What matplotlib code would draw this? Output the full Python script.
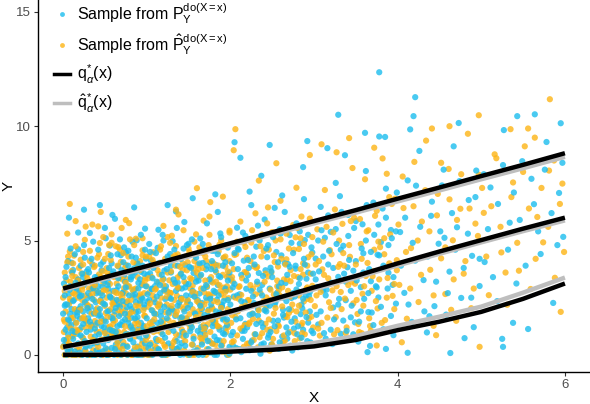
import numpy as np
import matplotlib
matplotlib.use("Agg")
import matplotlib.pyplot as plt
from matplotlib.lines import Line2D

plt.rcParams['font.family'] = ['Liberation Sans', 'DejaVu Sans']
plt.rcParams['mathtext.fontset'] = 'custom'
plt.rcParams['mathtext.rm'] = 'Liberation Sans'
plt.rcParams['mathtext.it'] = 'Liberation Sans:italic'

# sample from the true interventional distribution
blue_pts = [
    (0.02,0.00),(0.05,1.21),(0.07,2.64),(0.09,0.38),(0.12,3.71),(0.14,1.85),(0.16,0.02),(0.18,4.62),(0.21,2.13),(0.23,0.77),
    (0.25,3.05),(0.27,1.49),(0.30,0.00),(0.32,5.33),(0.34,2.88),(0.36,0.54),(0.39,1.97),(0.41,3.42),(0.43,0.11),(0.45,2.41),
    (0.48,4.07),(0.50,1.02),(0.52,0.00),(0.54,3.18),(0.57,1.66),(0.59,6.12),(0.61,2.29),(0.63,0.45),(0.66,3.87),(0.68,1.33),
    (0.70,0.03),(0.72,2.75),(0.75,4.48),(0.77,0.91),(0.79,1.78),(0.81,3.30),(0.84,0.00),(0.86,2.52),(0.88,5.01),(0.90,1.14),
    (0.93,3.63),(0.95,0.62),(0.97,2.06),(0.99,4.21),(0.01,3.12),(0.04,0.66),(0.08,1.79),(0.11,0.00),(0.13,2.95),(0.17,0.92),
    (0.20,1.58),(0.24,3.40),(0.26,0.21),(0.29,2.48),(0.33,1.10),(0.35,3.96),(0.38,0.00),(0.42,1.72),(0.44,6.55),(0.47,2.97),
    (0.51,0.29),(0.55,1.93),(0.58,3.55),(0.62,0.84),(0.65,2.21),(0.69,4.36),(0.71,1.45),(0.74,0.07),(0.78,2.99),(0.82,1.62),
    (0.85,3.79),(0.89,0.36),(0.92,2.37),(0.96,1.27),(0.98,5.52),(0.03,2.21),(0.06,0.14),(0.10,4.03),(0.15,1.41),(0.19,2.71),
    (0.22,0.00),(0.28,3.64),(0.31,1.89),(0.37,0.49),(0.40,2.69),(0.46,1.26),(0.49,3.23),(0.53,0.00),(0.56,4.78),(0.60,1.51),
    (0.64,2.83),(0.67,0.18),(0.73,3.49),(0.76,2.08),(0.80,0.72),(0.83,4.94),(0.87,1.87),(0.91,0.00),(0.94,3.05),(0.97,0.98),
    (0.07,6.00),
    (1.01,2.33),(1.03,0.00),(1.05,4.12),(1.07,1.46),(1.10,3.01),(1.12,0.59),(1.14,5.47),(1.16,2.18),(1.19,0.00),(1.21,3.68),
    (1.23,1.24),(1.25,2.76),(1.28,4.41),(1.30,0.31),(1.32,1.93),(1.35,6.27),(1.37,3.16),(1.39,0.85),(1.41,2.49),(1.44,0.02),
    (1.46,3.92),(1.48,1.58),(1.50,4.86),(1.53,2.62),(1.55,0.44),(1.57,1.84),(1.60,3.37),(1.62,0.00),(1.64,5.09),(1.66,2.27),
    (1.69,1.02),(1.71,3.74),(1.73,0.17),(1.76,2.55),(1.78,4.55),(1.80,1.39),(1.82,7.02),(1.85,3.05),(1.87,0.63),(1.89,2.11),
    (1.92,4.23),(1.94,1.17),(1.96,0.00),(1.98,3.46),(1.02,1.08),(1.06,2.87),(1.09,0.22),(1.13,4.68),(1.17,1.69),(1.20,3.32),
    (1.24,0.07),(1.27,2.04),(1.31,4.97),(1.34,1.31),(1.38,2.93),(1.42,0.52),(1.45,5.81),(1.49,2.36),(1.52,1.03),(1.56,3.58),
    (1.59,0.12),(1.63,2.68),(1.67,4.02),(1.70,0.76),(1.74,1.98),(1.77,3.21),(1.81,0.00),(1.84,2.41),(1.88,5.31),(1.91,1.55),
    (1.95,2.82),(1.99,0.35),(1.04,3.57),(1.11,1.77),(1.18,0.00),(1.22,2.44),(1.29,3.89),(1.36,0.27),(1.40,1.61),(1.47,3.11),
    (1.51,0.09),(1.58,4.37),(1.65,1.22),(1.72,2.97),(1.79,0.49),(1.83,3.93),(1.90,2.19),(1.97,4.69),
    (2.01,3.29),(2.03,0.41),(2.06,1.88),(2.08,5.56),(2.11,2.65),(2.13,0.12),(2.16,4.12),(2.18,1.36),(2.21,3.48),(2.23,7.14),
    (2.26,0.63),(2.28,2.27),(2.31,4.73),(2.33,1.72),(2.36,0.05),(2.38,3.06),(2.41,5.92),(2.43,2.14),(2.46,0.88),(2.48,3.81),
    (2.51,1.49),(2.53,6.43),(2.56,2.72),(2.58,0.26),(2.61,4.35),(2.63,1.97),(2.66,3.14),(2.68,0.71),(2.71,5.24),(2.73,2.49),
    (2.76,1.15),(2.78,3.77),(2.81,0.33),(2.83,4.86),(2.86,2.03),(2.88,6.81),(2.91,3.33),(2.93,1.41),(2.96,0.54),(2.98,4.48),
    (2.04,2.55),(2.09,4.64),(2.14,1.05),(2.19,2.89),(2.24,0.29),(2.29,5.11),(2.34,3.58),(2.39,1.21),(2.44,4.27),(2.49,0.46),
    (2.54,2.31),(2.59,5.49),(2.64,1.63),(2.69,3.97),(2.74,0.19),(2.79,2.86),(2.84,1.78),(2.89,5.02),(2.94,2.58),(2.99,0.95),
    (2.12,8.62),(2.37,7.83),(2.62,6.97),(2.87,8.21),(2.47,9.18),(2.05,9.30),(2.92,9.35),
    (3.02,4.21),(3.05,1.33),(3.08,6.47),(3.11,2.82),(3.14,0.71),(3.17,3.95),(3.20,5.38),(3.23,2.07),(3.26,7.52),(3.29,3.41),
    (3.32,0.92),(3.35,4.77),(3.38,2.39),(3.41,6.12),(3.44,1.64),(3.47,3.68),(3.50,5.85),(3.53,0.58),(3.56,2.96),(3.59,4.44),
    (3.62,8.04),(3.65,1.87),(3.68,3.22),(3.71,6.66),(3.78,12.36),(3.77,2.51),(3.80,4.93),(3.83,1.12),(3.86,7.27),(3.89,3.59),
    (3.92,5.46),(3.95,0.86),(3.98,2.24),(3.04,2.97),(3.13,5.12),(3.22,0.47),(3.31,6.94),(3.40,3.83),(3.49,1.42),(3.58,5.71),
    (3.67,0.39),(3.76,4.38),(3.85,9.53),(3.94,3.06),(3.37,8.73),(3.61,9.71),(3.16,9.04),(3.29,10.50),(3.78,9.55),
    (3.64,0.12),(3.86,0.26),
    (4.03,5.37),(4.08,2.71),(4.12,7.63),(4.17,1.44),(4.21,4.12),(4.26,8.92),(4.31,3.27),(4.35,0.98),(4.40,6.08),(4.44,2.13),
    (4.49,4.86),(4.53,7.41),(4.58,1.76),(4.62,3.64),(4.67,9.12),(4.71,5.58),(4.76,2.49),(4.80,0.73),(4.85,6.77),(4.89,4.33),
    (4.94,8.06),(4.98,3.01),(4.21,11.27),(4.15,9.86),(4.38,1.69),(4.56,5.12),(4.73,10.14),(4.91,1.21),(4.19,10.44),
    (4.12,0.09),(4.63,0.08),
    (5.04,4.06),(5.11,7.32),(5.19,2.35),(5.27,9.83),(5.34,5.78),(5.42,3.12),(5.49,8.47),(5.56,1.13),(5.63,6.59),(5.71,4.41),
    (5.78,9.31),(5.86,2.27),(5.93,7.08),(5.98,5.16),(5.43,10.44),(5.64,10.52),(5.95,10.13),(5.26,0.35),(5.38,1.40),(5.25,0.70),
]

# the packed mass of blue points at low X
blue_dense = [
    (0.00,1.8),(0.01,0.4),(0.02,2.6),(0.03,1.1),(0.03,3.4),(0.04,0.0),(0.05,2.2),(0.06,0.9),(0.06,4.1),(0.07,1.5),(0.08,3.0),
    (0.09,0.2),(0.10,2.0),(0.10,1.3),(0.11,3.6),(0.12,0.7),(0.13,2.4),(0.14,4.4),(0.14,1.0),(0.15,0.0),(0.16,2.9),(0.17,1.7),
    (0.18,0.5),(0.18,3.3),(0.19,2.0),(0.20,0.1),(0.21,3.9),(0.22,1.2),(0.22,2.6),(0.23,0.0),(0.24,1.9),(0.25,4.8),(0.26,0.6),
    (0.26,2.3),(0.27,3.2),(0.28,1.0),(0.29,0.0),(0.30,2.7),(0.30,1.6),(0.31,3.6),(0.32,0.4),(0.33,2.1),(0.34,1.3),(0.34,4.2),
    (0.35,0.0),(0.36,2.9),(0.37,1.8),(0.38,0.8),(0.38,3.4),(0.39,2.3),(0.40,0.2),(0.41,1.4),(0.42,3.0),(0.42,4.6),(0.43,0.9),
    (0.44,2.0),(0.45,0.0),(0.46,3.7),(0.46,1.6),(0.47,2.6),(0.48,0.5),(0.49,1.2),(0.50,3.3),(0.50,2.2),(0.51,5.1),(0.52,0.8),
    (0.53,1.9),(0.54,0.0),(0.54,2.9),(0.55,3.8),(0.56,1.1),(0.57,2.5),(0.58,0.3),(0.58,4.0),(0.59,1.6),(0.60,2.8),(0.61,0.0),
    (0.62,3.5),(0.62,1.9),(0.63,1.0),(0.64,2.4),(0.65,4.4),(0.66,0.6),(0.66,3.0),(0.67,1.7),(0.68,2.1),(0.69,0.0),(0.70,3.7),
    (0.70,1.3),(0.71,2.7),(0.72,0.4),(0.73,4.7),(0.74,1.8),(0.74,3.2),(0.75,0.9),(0.76,2.3),(0.77,0.0),(0.78,3.9),(0.78,1.4),
    (0.79,2.6),(0.80,0.7),(0.81,3.4),(0.82,2.0),(0.82,4.3),(0.83,1.1),(0.84,2.8),(0.85,0.2),(0.86,1.6),(0.86,3.6),(0.87,2.3),
    (0.88,0.0),(0.89,4.0),(0.90,1.9),(0.90,2.9),(0.91,0.8),(0.92,3.3),(0.93,1.4),(0.94,2.5),(0.94,0.0),(0.95,3.9),(0.96,1.2),
    (0.97,2.2),(0.98,4.6),(0.98,0.5),(0.99,3.0),
    (1.00,1.6),(1.01,3.5),(1.02,0.3),(1.03,2.4),(1.04,4.5),(1.05,1.1),(1.06,2.9),(1.07,0.0),(1.08,3.8),(1.09,1.8),(1.10,2.3),
    (1.11,0.7),(1.12,3.2),(1.13,1.4),(1.14,4.0),(1.15,0.2),(1.16,2.7),(1.17,1.9),(1.18,3.5),(1.19,0.9),(1.20,5.0),(1.21,2.1),
    (1.22,0.0),(1.23,3.0),(1.24,1.6),(1.25,4.3),(1.26,0.5),(1.27,2.5),(1.28,1.2),(1.29,3.6),(1.30,2.0),(1.31,0.1),(1.32,3.3),
    (1.33,4.6),(1.34,1.7),(1.35,2.8),(1.36,0.6),(1.37,3.9),(1.38,1.3),(1.39,2.3),(1.40,0.0),(1.41,4.2),(1.42,2.9),(1.43,1.0),
    (1.44,3.4),(1.45,1.9),(1.46,0.4),(1.47,2.6),(1.48,4.8),(1.49,1.4),(1.50,3.1),(1.51,0.0),(1.52,2.2),(1.53,3.8),(1.54,1.2),
    (1.55,2.8),(1.56,0.7),(1.57,4.4),(1.58,1.8),(1.59,3.2),(1.60,0.2),(1.61,2.4),(1.62,1.5),(1.63,4.0),(1.64,0.9),(1.65,3.5),
    (1.66,2.0),(1.67,0.0),(1.68,2.9),(1.69,4.6),(1.70,1.2),(1.71,2.5),(1.72,3.9),(1.73,0.6),(1.74,1.7),(1.75,3.3),(1.76,0.1),
    (1.77,2.2),(1.78,4.1),(1.79,1.5),(1.80,2.8),(1.81,0.8),(1.82,3.7),(1.83,1.9),(1.84,0.0),(1.85,4.4),(1.86,2.6),(1.87,1.1),
    (1.88,3.4),(1.89,0.4),(1.90,2.1),(1.91,3.9),(1.92,1.6),(1.93,0.9),(1.94,2.9),(1.95,4.8),(1.96,1.3),(1.97,2.4),(1.98,0.2),
    (1.99,3.6),
    (2.00,2.2),(2.02,4.0),(2.03,1.0),(2.05,3.1),(2.07,0.3),(2.08,2.6),(2.10,4.6),(2.12,1.6),(2.13,3.5),(2.15,0.7),(2.17,2.3),
    (2.18,5.2),(2.20,1.2),(2.22,3.8),(2.23,0.2),(2.25,2.8),(2.27,1.8),(2.28,4.3),(2.30,0.9),(2.32,3.2),(2.33,2.0),(2.35,5.0),
    (2.37,1.4),(2.38,2.6),(2.40,0.5),(2.42,3.7),(2.43,1.9),(2.45,4.8),(2.47,2.9),(2.48,1.0),(2.50,3.4),(2.52,0.3),(2.53,2.2),
    (2.55,4.5),(2.57,1.5),(2.58,3.0),(2.60,5.3),(2.62,0.8),(2.63,2.5),(2.65,4.0),(2.67,1.2),(2.68,3.5),(2.70,2.0),(2.72,0.4),
    (2.73,4.9),(2.75,2.7),(2.77,1.6),(2.78,3.9),(2.80,0.9),(2.82,3.1),(2.83,5.4),(2.85,2.2),(2.87,1.1),(2.88,4.2),(2.90,2.6),
    (2.92,0.6),(2.93,3.6),(2.95,1.9),(2.97,4.7),(2.98,2.9),
    (3.02,3.3),(3.05,5.0),(3.08,1.9),(3.11,4.3),(3.14,2.6),(3.17,6.1),(3.20,1.1),(3.23,3.8),(3.26,5.5),(3.29,2.2),(3.32,4.6),
    (3.35,1.5),(3.38,3.2),(3.41,5.2),(3.44,2.8),(3.47,0.9),(3.50,4.1),(3.53,6.3),(3.56,1.9),(3.59,3.6),(3.62,5.0),(3.65,2.7),
    (3.68,4.5),(3.71,1.3),(3.74,3.0),(3.77,5.7),(3.80,2.1),(3.83,3.9),(3.86,6.0),(3.89,4.8),(3.92,1.7),(3.95,3.4),(3.98,5.4),
]

# more blue points filling the gaps of the packed mass
blue_fill = [
    (0.01,0.65),(0.02,2.15),(0.04,3.85),(0.05,0.25),(0.06,1.55),(0.08,2.85),(0.09,4.65),(0.11,1.05),(0.12,2.35),(0.14,0.15),
    (0.15,3.15),(0.17,1.85),(0.18,5.35),(0.20,2.55),(0.21,0.85),(0.23,3.55),(0.24,1.35),(0.26,4.25),(0.27,0.35),(0.29,2.05),
    (0.30,3.75),(0.32,1.45),(0.33,0.05),(0.35,2.45),(0.36,4.95),(0.38,1.15),(0.39,3.25),(0.41,0.55),(0.42,2.75),(0.44,1.75),
    (0.45,3.95),(0.47,0.15),(0.48,2.25),(0.50,5.55),(0.51,1.45),(0.53,3.05),(0.54,0.65),(0.56,2.55),(0.57,4.35),(0.59,1.05),
    (0.60,3.65),(0.62,0.25),(0.63,2.05),(0.65,1.25),(0.66,3.35),(0.68,5.05),(0.69,0.75),(0.71,2.35),(0.72,4.05),(0.74,1.55),
    (0.75,2.95),(0.77,0.35),(0.78,4.55),(0.80,2.15),(0.81,1.25),(0.83,3.45),(0.84,0.55),(0.86,2.65),(0.87,4.25),(0.89,1.65),
    (0.90,3.15),(0.92,0.15),(0.93,5.25),(0.95,2.45),(0.96,1.05),(0.97,3.55),(0.99,0.85),(0.25,6.35),(0.62,5.95),(0.85,6.45),
    (1.01,2.65),(1.03,4.85),(1.04,0.45),(1.06,1.95),(1.07,3.35),(1.09,1.15),(1.11,4.45),(1.12,2.55),(1.14,0.25),(1.16,3.05),
    (1.17,1.45),(1.19,5.25),(1.21,2.85),(1.22,0.75),(1.24,3.75),(1.26,1.85),(1.27,0.05),(1.29,2.45),(1.31,4.15),(1.32,1.05),
    (1.34,3.15),(1.36,5.55),(1.37,2.15),(1.39,0.35),(1.41,3.55),(1.42,1.65),(1.44,4.65),(1.46,2.95),(1.47,0.85),(1.49,2.05),
    (1.51,3.85),(1.52,1.35),(1.54,5.05),(1.56,0.15),(1.57,2.55),(1.59,4.25),(1.61,1.05),(1.62,3.25),(1.64,2.15),(1.66,0.45),
    (1.67,4.85),(1.69,1.75),(1.71,3.05),(1.72,5.75),(1.74,0.25),(1.76,2.45),(1.77,3.75),(1.79,1.25),(1.81,4.55),(1.82,2.75),
    (1.84,0.65),(1.86,3.45),(1.87,1.85),(1.89,5.15),(1.91,0.95),(1.92,2.35),(1.94,4.05),(1.96,1.55),(1.97,3.25),(1.99,0.05),
    (1.25,6.55),(1.55,6.85),(1.85,6.25),
    (2.01,0.85),(2.03,2.95),(2.05,4.45),(2.07,1.55),(2.09,3.75),(2.11,0.25),(2.13,2.35),(2.15,5.35),(2.17,1.05),(2.19,3.25),
    (2.21,4.15),(2.23,1.75),(2.25,0.55),(2.27,2.55),(2.29,3.95),(2.31,1.35),(2.33,5.65),(2.35,2.85),(2.37,0.45),(2.39,3.45),
    (2.41,1.95),(2.43,4.65),(2.45,0.75),(2.47,2.15),(2.49,3.65),(2.51,5.15),(2.53,1.25),(2.55,2.65),(2.57,4.05),(2.59,0.55),
    (2.61,3.15),(2.63,1.75),(2.65,5.45),(2.67,2.35),(2.69,0.95),(2.71,3.85),(2.73,1.45),(2.75,4.45),(2.77,2.55),(2.79,5.75),
    (2.81,1.25),(2.83,3.35),(2.85,0.75),(2.87,2.45),(2.89,3.95),(2.91,1.65),(2.93,5.25),(2.95,2.75),(2.97,1.05),(2.99,3.55),
    (2.25,6.55),(2.65,6.25),
    (3.03,1.75),(3.06,3.65),(3.09,5.45),(3.12,0.95),(3.15,2.85),(3.18,4.55),(3.21,3.15),(3.24,1.55),(3.27,4.85),(3.30,2.45),
    (3.33,6.25),(3.36,3.55),(3.39,1.05),(3.42,4.15),(3.45,2.15),(3.48,5.55),(3.51,3.25),(3.54,1.45),(3.57,4.65),(3.60,2.45),
    (3.63,6.55),(3.66,3.75),(3.69,1.85),(3.72,5.25),(3.75,2.95),(3.78,4.35),
]

# blue points thinning out towards larger X
blue_mid = [
    (3.82,6.4),(3.88,2.9),(3.93,5.1),(3.99,7.1),(4.04,3.9),(4.09,6.0),(4.13,2.2),(4.18,4.9),(4.22,7.4),(4.27,5.6),
    (4.32,1.9),(4.36,4.3),(4.41,6.7),(4.46,3.2),(4.51,5.4),(4.55,8.1),(4.60,2.7),(4.65,6.2),(4.69,4.6),(4.74,7.6),
    (4.79,3.8),(4.84,5.3),(4.88,2.5),(4.93,6.9),(4.98,4.2),(5.03,7.9),(5.08,5.5),(5.14,3.4),(5.20,6.6),(5.26,8.3),
    (5.32,4.6),(5.39,7.1),(5.46,5.9),(5.53,3.9),(5.60,7.7),(5.68,5.4),(5.76,8.1),(5.84,6.2),(5.91,4.8),(5.97,8.4),
]

# sample from the estimated interventional distribution
orange_pts = [
    (0.01,1.54),(0.04,3.27),(0.06,0.00),(0.09,2.36),(0.11,0.81),(0.13,4.34),(0.15,1.12),(0.18,2.82),(0.20,0.00),(0.22,3.56),
    (0.25,1.67),(0.27,5.61),(0.29,0.42),(0.32,2.58),(0.34,1.31),(0.37,3.84),(0.39,0.00),(0.41,2.04),(0.44,4.89),(0.46,0.67),
    (0.48,3.13),(0.51,1.83),(0.53,0.24),(0.55,2.71),(0.58,5.27),(0.60,1.06),(0.62,3.47),(0.65,0.00),(0.67,2.18),(0.69,4.06),
    (0.72,0.57),(0.74,1.95),(0.76,3.31),(0.79,5.76),(0.81,0.09),(0.83,2.61),(0.86,1.38),(0.88,3.98),(0.90,0.00),(0.92,2.24),
    (0.95,4.57),(0.97,1.71),(0.99,0.33),(0.02,2.79),(0.07,0.51),(0.10,3.66),(0.14,0.00),(0.17,1.96),(0.21,4.16),(0.24,0.73),
    (0.28,2.23),(0.31,0.00),(0.35,3.21),(0.38,1.48),(0.42,5.62),(0.45,2.69),(0.49,0.16),(0.52,3.79),(0.56,1.24),(0.59,2.46),
    (0.63,0.81),(0.66,4.71),(0.70,1.89),(0.73,2.92),(0.77,0.00),(0.80,3.61),(0.84,1.19),(0.87,5.08),(0.91,2.57),(0.94,0.47),
    (0.98,3.36),(0.03,0.00),(0.08,4.52),(0.12,1.63),(0.16,3.02),(0.19,0.28),(0.23,2.39),(0.26,5.03),(0.30,1.36),(0.33,0.00),
    (0.36,2.93),(0.40,1.02),(0.43,3.52),(0.47,0.00),(0.50,2.14),(0.54,4.41),(0.57,0.93),(0.61,1.74),(0.64,3.12),(0.68,0.36),
    (0.71,2.51),(0.75,3.93),(0.78,1.55),(0.82,0.00),(0.85,2.86),(0.89,1.03),(0.93,3.71),(0.96,0.21),(0.08,6.60),
    (1.01,0.00),(1.03,2.74),(1.06,1.29),(1.08,4.49),(1.10,0.37),(1.13,2.16),(1.15,3.53),(1.17,0.98),(1.20,5.64),(1.22,1.87),
    (1.24,0.00),(1.27,3.26),(1.29,2.02),(1.31,4.27),(1.34,0.66),(1.36,2.59),(1.38,6.14),(1.41,1.43),(1.43,3.71),(1.45,0.19),
    (1.48,2.31),(1.50,4.65),(1.52,1.16),(1.55,3.04),(1.57,0.00),(1.59,5.27),(1.62,1.91),(1.64,3.44),(1.66,0.54),(1.69,2.72),
    (1.71,4.11),(1.73,1.34),(1.76,6.68),(1.78,2.07),(1.80,0.08),(1.83,3.62),(1.85,1.68),(1.87,4.82),(1.90,0.42),(1.92,2.94),
    (1.94,3.86),(1.97,1.21),(1.99,5.43),(1.02,3.84),(1.05,0.52),(1.09,2.43),(1.12,1.05),(1.16,4.03),(1.19,0.00),(1.23,2.86),
    (1.26,1.52),(1.30,5.21),(1.33,0.26),(1.37,3.39),(1.40,2.12),(1.44,0.79),(1.47,4.31),(1.51,1.78),(1.54,0.00),(1.58,2.53),
    (1.61,3.94),(1.65,1.11),(1.68,5.87),(1.72,2.38),(1.75,0.61),(1.79,3.16),(1.82,1.46),(1.86,4.53),(1.89,2.66),(1.93,0.14),
    (1.96,3.41),(1.07,1.94),(1.14,3.17),(1.21,0.44),(1.28,2.71),(1.35,4.76),(1.42,1.59),(1.49,0.00),(1.56,3.78),(1.63,2.25),
    (1.70,0.87),(1.77,3.99),(1.84,1.27),(1.91,6.92),(1.98,2.48),(1.60,7.29),
    (2.02,1.74),(2.05,4.37),(2.07,0.26),(2.10,2.97),(2.12,5.83),(2.15,1.18),(2.17,3.62),(2.20,0.49),(2.22,2.38),(2.25,4.91),
    (2.27,1.57),(2.30,6.19),(2.32,3.08),(2.35,0.77),(2.37,2.21),(2.40,4.54),(2.42,1.36),(2.45,3.43),(2.47,0.18),(2.50,5.37),
    (2.52,2.64),(2.55,1.04),(2.57,3.86),(2.60,6.74),(2.62,2.12),(2.65,0.61),(2.67,4.18),(2.70,1.83),(2.72,3.22),(2.75,5.68),
    (2.77,0.94),(2.80,2.77),(2.82,4.63),(2.85,1.29),(2.87,3.51),(2.90,0.39),(2.92,2.45),(2.95,5.96),(2.97,1.67),(2.03,3.19),
    (2.08,0.85),(2.13,2.62),(2.18,4.72),(2.23,1.41),(2.28,3.87),(2.33,0.33),(2.38,5.26),(2.43,2.51),(2.48,1.12),(2.53,4.06),
    (2.58,2.83),(2.63,0.57),(2.68,3.31),(2.73,1.96),(2.78,5.14),(2.83,0.72),(2.88,2.34),(2.93,4.27),(2.98,3.02),
    (2.06,9.87),(2.04,8.95),(2.34,7.62),(2.55,8.38),(2.79,7.31),(2.95,8.74),
    (3.01,2.13),(3.04,5.49),(3.07,0.84),(3.10,3.74),(3.13,7.21),(3.16,1.63),(3.19,4.58),(3.22,2.82),(3.25,6.36),(3.28,1.08),
    (3.31,3.97),(3.34,5.73),(3.37,2.46),(3.40,0.69),(3.43,4.29),(3.46,8.17),(3.49,3.11),(3.52,1.79),(3.55,5.94),(3.58,2.67),
    (3.61,7.68),(3.64,4.02),(3.67,1.26),(3.70,3.44),(3.73,6.08),(3.76,2.03),(3.79,4.71),(3.82,8.59),(3.85,1.52),(3.88,3.36),
    (3.91,5.27),(3.94,2.58),(3.97,6.83),(3.09,9.21),(3.27,8.86),(3.42,9.48),(3.57,0.95),(3.72,9.06),(3.87,7.92),(3.99,4.14),
    (3.33,0.62),(3.75,0.41),
    (4.02,3.06),(4.07,6.42),(4.11,1.58),(4.16,4.67),(4.20,8.44),(4.25,2.31),(4.29,5.83),(4.34,9.37),(4.39,3.72),(4.43,1.27),
    (4.48,7.04),(4.52,4.22),(4.57,2.66),(4.61,8.13),(4.66,5.01),(4.70,1.49),(4.75,6.39),(4.79,3.55),(4.84,9.67),(4.88,2.04),
    (4.93,5.74),(4.97,7.88),(4.41,9.90),(4.46,0.86),(4.64,1.97),(4.62,10.00),(4.97,10.48),(4.98,0.35),(4.05,0.55),
    (5.03,6.21),(5.09,2.61),(5.16,8.77),(5.24,4.48),(5.31,2.19),(5.38,7.54),(5.45,3.68),(5.52,9.12),(5.59,2.88),(5.67,6.03),
    (5.74,4.92),(5.81,8.06),(5.88,3.37),(5.82,11.18),(5.97,7.49),(5.56,9.90),(5.35,9.87),(5.64,9.50),(5.95,1.88),
]

# the packed mass of orange points at low X
orange_dense = [
    (0.00,2.5),(0.01,1.0),(0.02,0.0),(0.02,3.6),(0.03,1.9),(0.04,0.6),(0.05,2.9),(0.06,4.3),(0.07,1.3),(0.07,2.2),(0.08,0.2),
    (0.09,3.2),(0.10,1.6),(0.11,0.0),(0.12,2.7),(0.12,4.0),(0.13,0.9),(0.14,2.0),(0.15,3.4),(0.16,1.4),(0.17,0.3),(0.18,2.5),
    (0.19,3.8),(0.20,1.1),(0.21,2.0),(0.22,0.0),(0.23,3.0),(0.23,1.6),(0.24,4.5),(0.25,0.5),(0.26,2.6),(0.27,1.2),(0.28,3.5),
    (0.29,2.1),(0.30,0.0),(0.31,2.9),(0.32,4.1),(0.33,0.8),(0.34,1.8),(0.35,3.1),(0.36,0.2),(0.37,2.4),(0.38,3.9),(0.39,1.3),
    (0.40,2.8),(0.41,0.5),(0.42,1.9),(0.43,4.4),(0.44,1.0),(0.45,3.4),(0.46,2.3),(0.47,0.0),(0.48,2.8),(0.49,1.5),(0.50,4.2),
    (0.51,0.7),(0.52,2.5),(0.53,3.6),(0.54,1.2),(0.55,0.0),(0.56,3.1),(0.57,2.0),(0.58,4.9),(0.59,0.9),(0.60,2.2),(0.61,3.4),
    (0.62,1.5),(0.63,0.3),(0.64,2.7),(0.65,3.9),(0.66,1.0),(0.67,2.4),(0.68,4.6),(0.69,1.8),(0.70,0.0),(0.71,3.3),(0.72,2.2),
    (0.73,1.0),(0.74,3.8),(0.75,2.7),(0.76,0.4),(0.77,1.7),(0.78,4.3),(0.79,3.0),(0.80,1.2),(0.81,2.4),(0.82,0.0),(0.83,3.6),
    (0.84,1.9),(0.85,4.8),(0.86,0.8),(0.87,2.9),(0.88,1.5),(0.89,3.4),(0.90,2.1),(0.91,0.3),(0.92,4.1),(0.93,2.5),(0.94,1.1),
    (0.95,3.1),(0.96,0.0),(0.97,2.7),(0.98,1.7),(0.99,4.3),(0.05,5.3),(0.15,0.0),(0.35,5.7),(0.55,4.8),(0.75,5.9),(0.95,5.1),
    (1.00,3.0),(1.01,0.8),(1.02,2.1),(1.03,4.3),(1.04,1.4),(1.05,0.0),(1.06,3.4),(1.07,2.6),(1.08,1.0),(1.09,4.0),(1.10,1.8),
    (1.11,2.9),(1.12,0.3),(1.13,3.7),(1.14,2.1),(1.15,1.2),(1.16,4.6),(1.17,2.5),(1.18,0.6),(1.19,3.3),(1.20,1.5),(1.21,2.8),
    (1.22,4.2),(1.23,0.0),(1.24,2.2),(1.25,3.6),(1.26,1.0),(1.27,1.8),(1.28,4.9),(1.29,2.7),(1.30,0.4),(1.31,3.1),(1.32,1.4),
    (1.33,2.4),(1.34,3.9),(1.35,0.9),(1.36,1.9),(1.37,4.4),(1.38,2.9),(1.39,0.1),(1.40,3.5),(1.41,2.4),(1.42,1.1),(1.43,4.0),
    (1.44,2.0),(1.45,3.2),(1.46,0.6),(1.47,1.6),(1.48,3.7),(1.49,2.4),(1.50,0.0),(1.51,4.5),(1.52,2.9),(1.53,1.3),(1.54,3.3),
    (1.55,2.0),(1.56,0.8),(1.57,4.1),(1.58,2.7),(1.59,1.5),(1.60,3.6),(1.61,0.3),(1.62,2.3),(1.63,4.7),(1.64,1.8),(1.65,2.9),
    (1.66,0.7),(1.67,3.8),(1.68,1.3),(1.69,2.2),(1.70,4.3),(1.71,0.0),(1.72,3.0),(1.73,1.9),(1.74,4.8),(1.75,2.6),(1.76,1.0),
    (1.77,3.4),(1.78,0.5),(1.79,2.0),(1.80,4.0),(1.81,2.7),(1.82,1.4),(1.83,3.2),(1.84,0.2),(1.85,2.3),(1.86,3.9),(1.87,1.2),
    (1.88,2.8),(1.89,5.0),(1.90,1.7),(1.91,3.5),(1.92,0.6),(1.93,2.5),(1.94,4.3),(1.95,1.0),(1.96,3.0),(1.97,2.0),(1.98,0.0),
    (1.99,4.1),
    (2.01,1.4),(2.02,3.4),(2.04,0.6),(2.06,2.5),(2.07,4.4),(2.09,1.9),(2.11,3.0),(2.12,0.2),(2.14,2.1),(2.16,4.9),(2.17,1.3),
    (2.19,3.6),(2.21,2.4),(2.22,0.5),(2.24,4.1),(2.26,1.8),(2.27,2.9),(2.29,0.9),(2.31,3.8),(2.32,5.1),(2.34,1.5),(2.36,2.7),
    (2.37,4.3),(2.39,0.3),(2.41,3.2),(2.42,2.0),(2.44,1.1),(2.46,4.6),(2.47,2.4),(2.49,3.6),(2.51,0.7),(2.52,1.8),(2.54,5.0),
    (2.56,3.0),(2.57,1.3),(2.59,2.6),(2.61,4.2),(2.62,0.4),(2.64,3.3),(2.66,1.7),(2.67,5.3),(2.69,2.8),(2.71,1.0),(2.72,3.7),
    (2.74,2.2),(2.76,4.6),(2.77,0.6),(2.79,1.9),(2.81,3.4),(2.82,2.6),(2.84,5.1),(2.86,1.4),(2.87,4.0),(2.89,0.9),(2.91,2.9),
    (2.92,3.9),(2.94,1.6),(2.96,2.4),(2.97,4.4),(2.99,1.2),
    (3.03,2.6),(3.06,4.1),(3.09,1.4),(3.12,3.5),(3.15,5.6),(3.18,2.3),(3.21,4.4),(3.24,0.9),(3.27,3.0),(3.30,5.0),(3.33,2.0),
    (3.36,3.9),(3.39,1.2),(3.42,4.8),(3.45,3.2),(3.48,6.0),(3.51,2.4),(3.54,1.0),(3.57,4.2),(3.60,3.0),(3.63,5.4),(3.66,1.6),
    (3.69,2.8),(3.72,4.6),(3.75,6.3),(3.78,3.3),(3.81,1.4),(3.84,5.1),(3.87,2.5),(3.90,4.0),(3.93,6.6),(3.96,2.0),(3.99,3.7),
]

# more orange points filling the gaps of the packed mass
orange_fill = [
    (0.00,0.35),(0.02,1.45),(0.03,2.95),(0.05,4.05),(0.06,0.75),(0.08,2.45),(0.09,1.15),(0.11,3.45),(0.12,0.05),(0.14,2.65),
    (0.15,4.75),(0.17,1.05),(0.18,3.25),(0.20,1.95),(0.21,0.45),(0.23,2.85),(0.24,3.95),(0.26,1.55),(0.27,0.15),(0.29,3.35),
    (0.30,2.15),(0.32,4.55),(0.33,1.25),(0.35,2.65),(0.36,0.65),(0.38,3.05),(0.39,1.85),(0.41,4.25),(0.42,0.35),(0.44,2.35),
    (0.45,1.45),(0.47,3.65),(0.48,5.15),(0.50,0.95),(0.51,2.85),(0.53,1.65),(0.54,3.45),(0.56,0.05),(0.57,4.15),(0.59,2.25),
    (0.60,1.35),(0.62,2.75),(0.63,4.75),(0.65,0.55),(0.66,1.95),(0.68,3.35),(0.69,2.65),(0.71,0.25),(0.72,4.45),(0.74,1.25),
    (0.75,3.15),(0.77,2.35),(0.78,0.85),(0.80,5.05),(0.81,1.85),(0.83,2.85),(0.84,4.05),(0.86,0.35),(0.87,2.15),(0.89,3.75),
    (0.90,1.35),(0.92,2.65),(0.93,0.05),(0.95,4.35),(0.96,1.95),(0.98,3.25),(0.99,0.65),(0.15,5.85),(0.45,6.25),(0.70,5.55),
    (1.00,1.25),(1.02,3.35),(1.04,2.25),(1.05,0.15),(1.07,4.15),(1.09,1.55),(1.10,2.85),(1.12,3.95),(1.14,0.65),(1.15,2.25),
    (1.17,4.75),(1.19,1.35),(1.20,3.05),(1.22,0.35),(1.24,2.55),(1.25,5.15),(1.27,1.25),(1.29,3.65),(1.30,2.15),(1.32,0.55),
    (1.34,4.35),(1.35,1.75),(1.37,2.95),(1.39,0.15),(1.40,3.85),(1.42,2.45),(1.44,5.45),(1.45,0.95),(1.47,2.15),(1.49,4.05),
    (1.50,1.35),(1.52,3.35),(1.54,0.45),(1.55,2.75),(1.57,4.95),(1.59,1.65),(1.60,2.35),(1.62,3.75),(1.64,0.75),(1.65,2.05),
    (1.67,4.45),(1.69,1.15),(1.70,3.25),(1.72,0.25),(1.74,2.65),(1.75,5.25),(1.77,1.55),(1.79,3.85),(1.80,2.35),(1.82,0.45),
    (1.84,4.65),(1.85,1.25),(1.87,3.05),(1.89,2.05),(1.90,0.15),(1.92,4.25),(1.94,2.75),(1.95,1.45),(1.97,3.65),(1.99,5.35),
    (1.35,6.35),(1.75,6.05),
    (2.00,2.85),(2.02,0.55),(2.04,3.75),(2.06,1.65),(2.08,4.95),(2.10,2.45),(2.12,1.15),(2.14,3.35),(2.16,0.35),(2.18,2.15),
    (2.20,4.25),(2.22,1.35),(2.24,3.05),(2.26,5.45),(2.28,0.65),(2.30,2.65),(2.32,3.85),(2.34,1.95),(2.36,4.75),(2.38,0.95),
    (2.40,2.35),(2.42,3.55),(2.44,5.75),(2.46,1.55),(2.48,2.85),(2.50,0.45),(2.52,4.35),(2.54,2.05),(2.56,3.25),(2.58,1.25),
    (2.60,5.05),(2.62,2.95),(2.64,0.85),(2.66,3.95),(2.68,1.65),(2.70,4.65),(2.72,2.55),(2.74,0.35),(2.76,3.45),(2.78,1.45),
    (2.80,5.55),(2.82,2.15),(2.84,3.75),(2.86,0.95),(2.88,4.85),(2.90,1.85),(2.92,2.95),(2.94,0.45),(2.96,3.55),(2.98,5.15),
    (2.45,6.45),(2.85,6.05),
    (3.02,3.95),(3.05,1.15),(3.08,2.75),(3.11,4.95),(3.14,0.55),(3.17,3.35),(3.20,2.05),(3.23,5.35),(3.26,1.65),(3.29,3.85),
    (3.32,2.75),(3.35,4.45),(3.38,0.95),(3.41,3.05),(3.44,5.85),(3.47,2.25),(3.50,3.95),(3.53,1.35),(3.56,4.85),(3.59,2.15),
    (3.62,3.45),(3.65,5.45),(3.68,1.05),(3.71,3.65),(3.74,2.35),(3.77,4.95),
]

# orange points thinning out towards larger X
orange_mid = [
    (3.84,4.4),(3.90,6.9),(3.96,3.1),(4.01,5.7),(4.06,7.8),(4.10,4.5),(4.15,2.9),(4.19,6.5),(4.24,5.0),(4.28,3.5),
    (4.33,7.2),(4.38,5.4),(4.43,2.6),(4.47,6.1),(4.52,8.4),(4.57,4.7),(4.62,6.8),(4.67,3.3),(4.71,5.9),(4.76,7.9),
    (4.81,4.1),(4.86,6.4),(4.91,2.9),(4.96,5.2),(5.01,7.3),(5.06,4.3),(5.12,6.5),(5.18,8.6),(5.23,5.6),(5.29,3.6),
    (5.36,6.9),(5.43,4.9),(5.50,8.0),(5.57,6.4),(5.65,4.2),(5.72,7.3),(5.80,5.6),(5.87,8.5),(5.94,6.6),(5.99,4.5),
]

# quantile curves
curve_x = [0.0, 0.5, 1.0, 1.5, 2.0, 2.5, 3.0, 3.5, 4.0, 4.5, 5.0, 5.5, 6.0]
q_true_hi = [2.90, 3.40, 3.88, 4.38, 4.88, 5.36, 5.85, 6.33, 6.83, 7.32, 7.82, 8.31, 8.82]
q_true_mid = [0.35, 0.68, 1.03, 1.45, 1.90, 2.42, 2.95, 3.45, 4.00, 4.52, 5.02, 5.52, 6.00]
q_true_lo = [0.00, 0.00, 0.02, 0.06, 0.14, 0.22, 0.37, 0.65, 1.08, 1.45, 1.88, 2.45, 3.12]
q_est_hi = [2.84, 3.33, 3.81, 4.30, 4.79, 5.27, 5.75, 6.22, 6.71, 7.19, 7.68, 8.16, 8.66]
q_est_mid = [0.33, 0.64, 0.98, 1.40, 1.84, 2.35, 2.87, 3.37, 3.91, 4.42, 4.92, 5.41, 5.88]
q_est_lo = [0.00, 0.02, 0.06, 0.12, 0.22, 0.34, 0.52, 0.82, 1.27, 1.67, 2.11, 2.72, 3.38]

blue = '#1CBDEE'
orange = '#FDB515'
grey = '#BEBEBE'

fig = plt.figure(figsize=(5.9, 4.04), dpi=100)
ax = fig.add_axes([38/590, 32/404, 552/590, 372/404])

bx, by = np.array(blue_pts + blue_dense + blue_fill + blue_mid).T
ox, oy = np.array(orange_pts + orange_dense + orange_fill + orange_mid).T
allx = np.r_[bx, ox]
ally = np.r_[by, oy]
cols = np.array([blue]*len(bx) + [orange]*len(ox))
# interleave the two samples so neither one sits entirely on top
order = np.argsort(np.r_[np.arange(len(bx))/len(bx), np.arange(len(ox))/len(ox)], kind='stable')
ax.scatter(allx[order], ally[order], s=20, c=cols[order], alpha=0.8, linewidths=0, zorder=1)

for est, tru in [(q_est_hi, q_true_hi), (q_est_mid, q_true_mid), (q_est_lo, q_true_lo)]:
    ax.plot(curve_x, est, color=grey, lw=3.2, zorder=2, solid_capstyle='butt')
    ax.plot(curve_x, tru, color='black', lw=3.2, zorder=3, solid_capstyle='butt')

ax.set_xlim(-0.3, 6.3)
ax.set_ylim(-0.75, 15.52)
ax.set_xticks([0, 2, 4, 6])
ax.set_yticks([0, 5, 10, 15])
ax.tick_params(labelsize=9.5, labelcolor='#4D4D4D', color='#333333', length=3, width=0.8, pad=2)
ax.set_xlabel('X', fontsize=11)
ax.set_ylabel('Y', fontsize=11)
ax.xaxis.set_label_coords(0.5, -0.07)
ax.yaxis.set_label_coords(-0.054, 0.5)
ax.xaxis.label.set_va('center')
ax.yaxis.label.set_va('center')
for s in ['top', 'right']:
    ax.spines[s].set_visible(False)
for s in ['left', 'bottom']:
    ax.spines[s].set_linewidth(1.0)

handles = [
    Line2D([], [], ls='none', marker='o', ms=3.5, mew=0, color=blue, alpha=0.8),
    Line2D([], [], ls='none', marker='o', ms=3.5, mew=0, color=orange, alpha=0.8),
    Line2D([], [], color='black', lw=2.5),
    Line2D([], [], color=grey, lw=2.5),
]
labels = [
    r'Sample from $\mathrm{P}_{\mathrm{Y}}^{\mathrm{do(X=x)}}$',
    r'Sample from $\hat{\mathrm{P}}_{\mathrm{Y}}^{\mathrm{do(X=x)}}$',
    r'$\mathrm{q}_{\alpha}^{*}(\mathrm{x})$',
    r'$\hat{\mathrm{q}}_{\alpha}^{*}(\mathrm{x})$',
]
fig.legend(handles, labels, loc='upper left', bbox_to_anchor=(48/590, 1.012), frameon=False,
           fontsize=11.5, handlelength=1.0, handletextpad=0.4, labelspacing=0.35, borderaxespad=0)

fig.savefig('out.png', dpi=100)
